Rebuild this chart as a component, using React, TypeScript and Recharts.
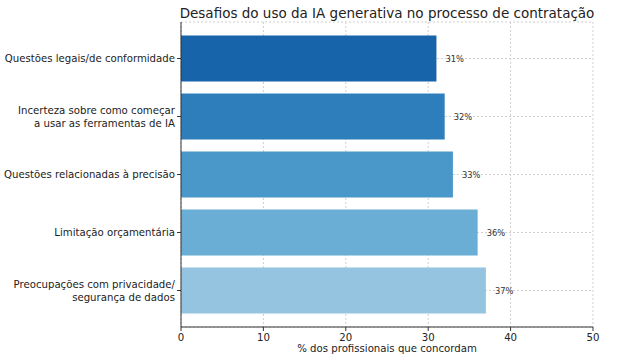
import React from "react";
import { BarChart, Bar, XAxis, YAxis, CartesianGrid, LabelList, Cell, Customized } from "recharts";

const categories = [
  ["Questões legais/de conformidade"],
  ["Incerteza sobre como começar", "a usar as ferramentas de IA"],
  ["Questões relacionadas à precisão"],
  ["Limitação orçamentária"],
  ["Preocupações com privacidade/", "segurança de dados"],
];
const values = [31, 32, 33, 36, 37];
const barColors = ["#1764ab", "#2e7ebc", "#4a98c9", "#6aaed6", "#94c4df"];
const xTicks = [0, 10, 20, 30, 40, 50];

const data = categories.map((lines, i) => ({ name: lines.join(" "), lines, value: values[i] }));

const FONT = "'DejaVu Sans', sans-serif";
const SQUEEZE = 0.925;

function YTick(props: any) {
  const { x, y, index } = props;
  const lines = data[index]?.lines ?? [props.payload.value];
  const start = -((lines.length - 1) * 13) / 2;
  return (
    <g transform={`translate(${x},${y}) scale(${SQUEEZE},1)`}>
      <text textAnchor="end" fontSize={11} fontFamily={FONT} fill="#222">
        {lines.map((l: string, i: number) => (
          <tspan key={i} x={0} y={start + i * 13} dy="0.35em">{l}</tspan>
        ))}
      </text>
    </g>
  );
}

function XTick(props: any) {
  const { x, y, payload } = props;
  return (
    <g transform={`translate(${x},${y}) scale(${SQUEEZE},1)`}>
      <text textAnchor="middle" fontSize={11} fontFamily={FONT} fill="#222" dy="0.71em">
        {payload.value}
      </text>
    </g>
  );
}

function ValueLabel(props: any) {
  const { x, y, width, height, value } = props;
  return (
    <g transform={`translate(${x + width + 9},${y + height / 2}) scale(${SQUEEZE},1)`}>
      <text fontSize={9} fontFamily={FONT} fill="#333" dy="0.35em">{`${value}%`}</text>
    </g>
  );
}

function Title() {
  return (
    <text x={387} y={17.5} textAnchor="middle" fontSize={13.5} fontFamily={FONT} fill="#222">
      Desafios do uso da IA generativa no processo de contratação
    </text>
  );
}

function XLabel() {
  return (
    <g transform={`translate(387,352) scale(${SQUEEZE},1)`}>
      <text textAnchor="middle" fontSize={11} fontFamily={FONT} fill="#222">
        % dos profissionais que concordam
      </text>
    </g>
  );
}

export default function App() {
  return (
    <div style={{ position: "absolute", left: 0, top: 0, background: "#fff" }}>
      <BarChart
        width={621}
        height={361}
        data={data}
        layout="vertical"
        margin={{ top: 22, right: 28, left: 0, bottom: 0 }}
      >
        <CartesianGrid stroke="#cfcfcf" strokeDasharray="2 2" />
        <XAxis
          type="number"
          domain={[0, 50]}
          ticks={xTicks}
          height={34}
          tickSize={4}
          tickMargin={2}
          stroke="#333"
          tick={<XTick />}
        />
        <YAxis
          type="category"
          dataKey="name"
          width={181}
          tickSize={4}
          tickMargin={2}
          stroke="#333"
          padding={{ top: 7.5, bottom: 7.5 }}
          interval={0}
          tick={<YTick />}
        />
        <Bar dataKey="value" barSize={46} isAnimationActive={false}>
          {data.map((d, i) => (
            <Cell key={d.name} fill={barColors[i]} />
          ))}
          <LabelList dataKey="value" content={<ValueLabel />} />
        </Bar>
        <Customized component={<Title />} />
        <Customized component={<XLabel />} />
      </BarChart>
    </div>
  );
}
